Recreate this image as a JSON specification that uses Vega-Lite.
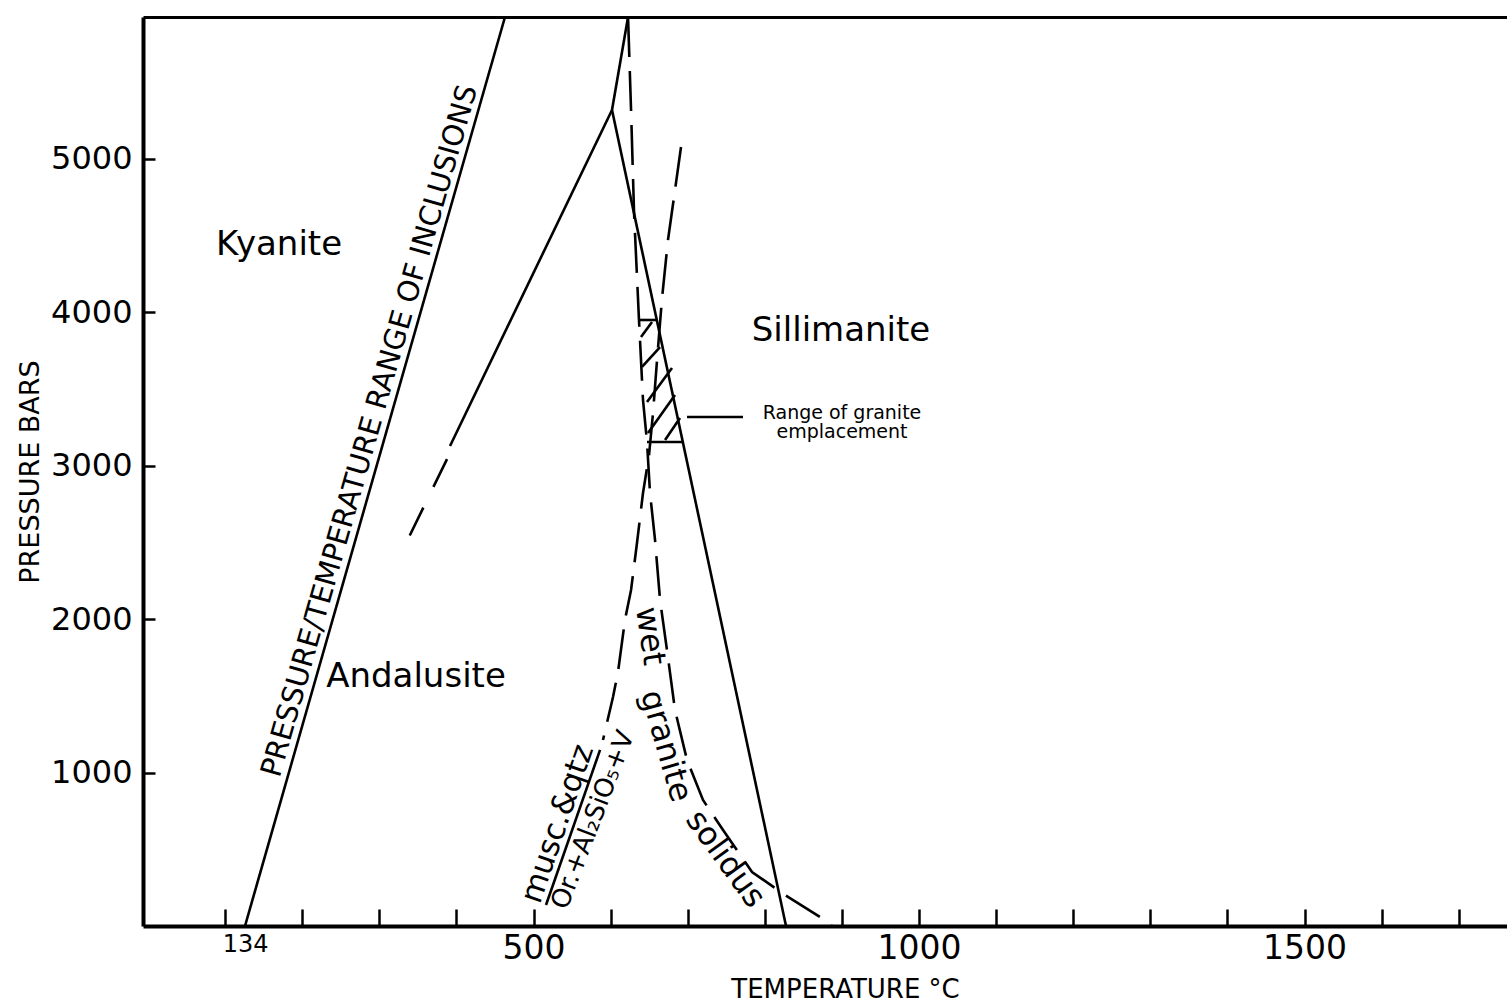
{
  "$schema": "https://vega.github.io/schema/vega-lite/v6.json",
  "width": 1364,
  "height": 909,
  "autosize": "none",
  "padding": {"left": 143, "top": 17, "right": 0, "bottom": 82},
  "background": "white",
  "config": {
    "view": {"stroke": null},
    "font": "DejaVu Sans",
    "axis": {"grid": false, "domainColor": "black", "tickColor": "black", "labelColor": "black", "titleColor": "black", "titleFontWeight": "normal"}
  },
  "datasets": {
    "solid": [
      {"s": "incl", "o": 0, "T": 125.8, "P": 0},
      {"s": "incl", "o": 1, "T": 463.0, "P": 5922},
      {"s": "kysil", "o": 0, "T": 601.8, "P": 5316},
      {"s": "kysil", "o": 1, "T": 622.6, "P": 5922},
      {"s": "kyand", "o": 0, "T": 601.8, "P": 5316},
      {"s": "kyand", "o": 1, "T": 391.7, "P": 3127},
      {"s": "andsil", "o": 0, "T": 601.8, "P": 5316},
      {"s": "andsil", "o": 1, "T": 827.5, "P": 0},
      {"s": "boxtop", "o": 0, "T": 636.8, "P": 3948},
      {"s": "boxtop", "o": 1, "T": 660.2, "P": 3948},
      {"s": "boxbot", "o": 0, "T": 647.2, "P": 3153},
      {"s": "boxbot", "o": 1, "T": 693.6, "P": 3153},
      {"s": "h1", "o": 0, "T": 639.4, "P": 3837},
      {"s": "h1", "o": 1, "T": 653.7, "P": 3935},
      {"s": "h2", "o": 0, "T": 640.7, "P": 3642},
      {"s": "h2", "o": 1, "T": 664.1, "P": 3772},
      {"s": "h3", "o": 0, "T": 647.2, "P": 3414},
      {"s": "h3", "o": 1, "T": 679.6, "P": 3635},
      {"s": "h4", "o": 0, "T": 648.5, "P": 3212},
      {"s": "h4", "o": 1, "T": 683.5, "P": 3459},
      {"s": "h5", "o": 0, "T": 670.6, "P": 3166},
      {"s": "h5", "o": 1, "T": 690.0, "P": 3309},
      {"s": "leader", "o": 0, "T": 699.1, "P": 3316},
      {"s": "leader", "o": 1, "T": 771.7, "P": 3316},
      {"s": "bar", "o": 0, "T": 586.3, "P": 1147},
      {"s": "bar", "o": 1, "T": 516.2, "P": 137}
    ],
    "dashed": [
      {"s": "solidus", "o": 0, "T": 622.6, "P": 5922},
      {"s": "solidus", "o": 1, "T": 626.5, "P": 5316},
      {"s": "solidus", "o": 2, "T": 630.4, "P": 4645},
      {"s": "solidus", "o": 3, "T": 636.8, "P": 3948},
      {"s": "solidus", "o": 4, "T": 642.0, "P": 3427},
      {"s": "solidus", "o": 5, "T": 647.2, "P": 3153},
      {"s": "solidus", "o": 6, "T": 651.1, "P": 2821},
      {"s": "solidus", "o": 7, "T": 657.6, "P": 2515},
      {"s": "solidus", "o": 8, "T": 664.1, "P": 2124},
      {"s": "solidus", "o": 9, "T": 673.1, "P": 1798},
      {"s": "solidus", "o": 10, "T": 683.5, "P": 1407},
      {"s": "solidus", "o": 11, "T": 699.1, "P": 1081},
      {"s": "solidus", "o": 12, "T": 719.8, "P": 821},
      {"s": "solidus", "o": 13, "T": 745.8, "P": 625},
      {"s": "solidus", "o": 14, "T": 783.4, "P": 352},
      {"s": "solidus", "o": 15, "T": 826.2, "P": 202},
      {"s": "solidus", "o": 16, "T": 871.6, "P": 59},
      {"s": "solidus", "o": 17, "T": 887.2, "P": 0},
      {"s": "musc", "o": 0, "T": 691.3, "P": 5075},
      {"s": "musc", "o": 1, "T": 683.5, "P": 4795},
      {"s": "musc", "o": 2, "T": 674.4, "P": 4469},
      {"s": "musc", "o": 3, "T": 666.7, "P": 4091},
      {"s": "musc", "o": 4, "T": 660.2, "P": 3687},
      {"s": "musc", "o": 5, "T": 655.0, "P": 3342},
      {"s": "musc", "o": 6, "T": 649.8, "P": 3068},
      {"s": "musc", "o": 7, "T": 642.0, "P": 2821},
      {"s": "musc", "o": 8, "T": 634.2, "P": 2495},
      {"s": "musc", "o": 9, "T": 626.5, "P": 2189},
      {"s": "musc", "o": 10, "T": 618.7, "P": 1997},
      {"s": "musc", "o": 11, "T": 609.6, "P": 1655},
      {"s": "musc", "o": 12, "T": 603.1, "P": 1492},
      {"s": "musc", "o": 13, "T": 590.1, "P": 1212}
    ],
    "kyanddash": [
      {"s": "kyand2", "o": 0, "T": 387.8, "P": 3042},
      {"s": "kyand2", "o": 1, "T": 337.2, "P": 2521}
    ],
    "regions": [
      {"name": "Kyanite", "T": 170.0, "P": 4436},
      {"name": "Sillimanite", "T": 898.8, "P": 3876},
      {"name": "Andalusite", "T": 347.6, "P": 1622}
    ]
  },
  "resolve": {"axis": {"x": "independent"}},
  "layer": [
    {
      "data": {"name": "solid"},
      "mark": {"type": "line", "color": "black", "strokeWidth": 2.6},
      "encoding": {
        "x": {"field": "T", "type": "quantitative", "scale": {"domain": [-6.5, 1762.6], "nice": false, "zero": false},
          "axis": {"orient": "bottom", "values": [100, 200, 300, 400, 500, 600, 700, 800, 900, 1000, 1100, 1200, 1300, 1400, 1500, 1600, 1700], "labels": false, "title": null, "tickSize": -17, "tickWidth": 2.5, "domainWidth": 4}},
        "y": {"field": "P", "type": "quantitative", "scale": {"domain": [0, 5922], "nice": false, "zero": false},
          "axis": {"values": [1000, 2000, 3000, 4000, 5000], "format": "d", "tickSize": -12, "tickWidth": 2.5, "domainWidth": 4, "labelFontSize": 32, "labelPadding": 23, "title": "PRESSURE BARS", "titleFontSize": 27, "titlePadding": 6}},
        "detail": {"field": "s"},
        "order": {"field": "o"}
      }
    },
    {
      "data": {"name": "dashed"},
      "mark": {"type": "line", "color": "black", "strokeWidth": 2.6, "strokeDash": [40, 14]},
      "encoding": {
        "x": {"field": "T", "type": "quantitative", "scale": {"domain": [-6.5, 1762.6], "nice": false, "zero": false},
          "axis": {"orient": "bottom", "values": [126, 500, 1000, 1500], "format": "d", "ticks": false, "tickSize": 0, "domain": false,
            "labelExpr": "datum.value < 200 ? '134' : datum.label",
            "labelFontSize": {"condition": {"test": "datum.value < 200", "value": 24}, "value": 33},
            "labelPadding": 6, "title": "TEMPERATURE °C", "titleFontSize": 26, "titlePadding": 11, "titleX": 702}},
        "y": {"field": "P", "type": "quantitative", "scale": {"domain": [0, 5922], "nice": false, "zero": false}},
        "detail": {"field": "s"},
        "order": {"field": "o"}
      }
    },
    {
      "data": {"name": "kyanddash"},
      "mark": {"type": "line", "color": "black", "strokeWidth": 2.6, "strokeDash": [31, 23]},
      "encoding": {
        "x": {"field": "T", "type": "quantitative", "scale": {"domain": [-6.5, 1762.6], "nice": false, "zero": false}, "axis": null},
        "y": {"field": "P", "type": "quantitative", "scale": {"domain": [0, 5922], "nice": false, "zero": false}},
        "order": {"field": "o"}
      }
    },
    {
      "data": {"name": "regions"},
      "mark": {"type": "text", "fontSize": 34, "align": "center", "baseline": "middle", "color": "black"},
      "encoding": {
        "x": {"field": "T", "type": "quantitative", "scale": {"domain": [-6.5, 1762.6], "nice": false, "zero": false},
          "axis": {"orient": "top", "domain": true, "domainWidth": 3, "ticks": false, "labels": false, "title": null}},
        "y": {"field": "P", "type": "quantitative", "scale": {"domain": [0, 5922], "nice": false, "zero": false}},
        "text": {"field": "name"}
      }
    },
    {
      "data": {"values": [{"name": "PRESSURE/TEMPERATURE RANGE OF INCLUSIONS", "T": 287.5, "P": 3225}]},
      "mark": {"type": "text", "fontSize": 29, "angle": -74, "align": "center", "baseline": "middle", "color": "black"},
      "encoding": {
        "x": {"field": "T", "type": "quantitative", "scale": {"domain": [-6.5, 1762.6], "nice": false, "zero": false}, "axis": null},
        "y": {"field": "P", "type": "quantitative", "scale": {"domain": [0, 5922], "nice": false, "zero": false}},
        "text": {"field": "name"}
      }
    },
    {
      "data": {"values": [{"name": "wet", "T": 651.1, "P": 1889}]},
      "mark": {"type": "text", "fontSize": 32, "angle": 82, "align": "center", "baseline": "middle", "color": "black"},
      "encoding": {
        "x": {"field": "T", "type": "quantitative", "scale": {"domain": [-6.5, 1762.6], "nice": false, "zero": false}, "axis": null},
        "y": {"field": "P", "type": "quantitative", "scale": {"domain": [0, 5922], "nice": false, "zero": false}},
        "text": {"field": "name"}
      }
    },
    {
      "data": {"values": [{"name": "granite", "T": 671.8, "P": 1173}]},
      "mark": {"type": "text", "fontSize": 32, "angle": 74, "align": "center", "baseline": "middle", "color": "black"},
      "encoding": {
        "x": {"field": "T", "type": "quantitative", "scale": {"domain": [-6.5, 1762.6], "nice": false, "zero": false}, "axis": null},
        "y": {"field": "P", "type": "quantitative", "scale": {"domain": [0, 5922], "nice": false, "zero": false}},
        "text": {"field": "name"}
      }
    },
    {
      "data": {"values": [{"name": "solidus", "T": 749.0, "P": 437}]},
      "mark": {"type": "text", "fontSize": 32, "angle": 54, "align": "center", "baseline": "middle", "color": "black"},
      "encoding": {
        "x": {"field": "T", "type": "quantitative", "scale": {"domain": [-6.5, 1762.6], "nice": false, "zero": false}, "axis": null},
        "y": {"field": "P", "type": "quantitative", "scale": {"domain": [0, 5922], "nice": false, "zero": false}},
        "text": {"field": "name"}
      }
    },
    {
      "data": {"values": [{"name": "musc.&qtz", "T": 531.8, "P": 664}]},
      "mark": {"type": "text", "fontSize": 31, "angle": -71, "align": "center", "baseline": "middle", "color": "black"},
      "encoding": {
        "x": {"field": "T", "type": "quantitative", "scale": {"domain": [-6.5, 1762.6], "nice": false, "zero": false}, "axis": null},
        "y": {"field": "P", "type": "quantitative", "scale": {"domain": [0, 5922], "nice": false, "zero": false}},
        "text": {"field": "name"}
      }
    },
    {
      "data": {"values": [{"name": "Or.+Al₂SiO₅+V", "T": 577.2, "P": 691}]},
      "mark": {"type": "text", "fontSize": 26, "angle": -69, "align": "center", "baseline": "middle", "color": "black"},
      "encoding": {
        "x": {"field": "T", "type": "quantitative", "scale": {"domain": [-6.5, 1762.6], "nice": false, "zero": false}, "axis": null},
        "y": {"field": "P", "type": "quantitative", "scale": {"domain": [0, 5922], "nice": false, "zero": false}},
        "text": {"field": "name"}
      }
    },
    {
      "data": {"values": [{"name": ["Range of granite", "emplacement"], "T": 900.1, "P": 3342}]},
      "mark": {"type": "text", "fontSize": 19, "lineHeight": 19, "align": "center", "baseline": "middle", "color": "black"},
      "encoding": {
        "x": {"field": "T", "type": "quantitative", "scale": {"domain": [-6.5, 1762.6], "nice": false, "zero": false}, "axis": null},
        "y": {"field": "P", "type": "quantitative", "scale": {"domain": [0, 5922], "nice": false, "zero": false}},
        "text": {"field": "name"}
      }
    }
  ]
}
